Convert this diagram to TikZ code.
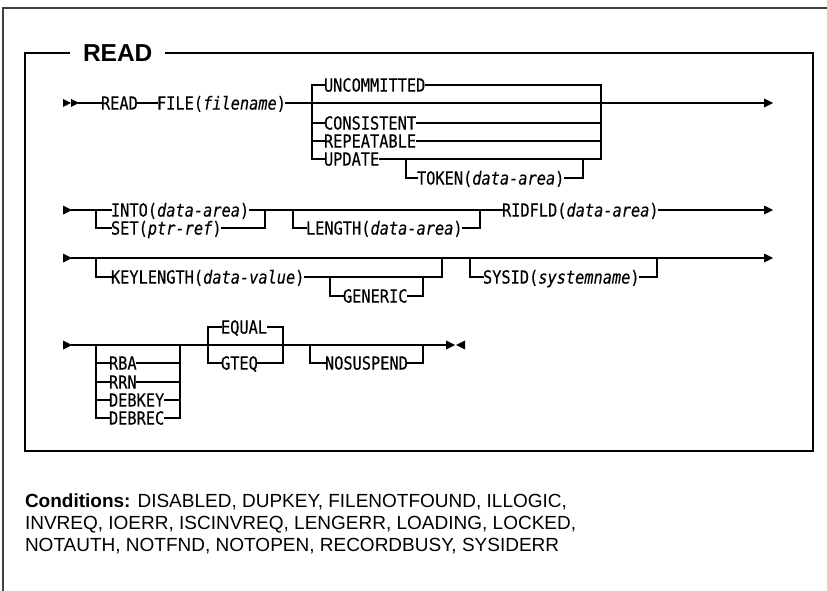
\documentclass[tikz,border=0pt]{standalone}
\usepackage{fontspec}
\newfontfamily\synfont[FakeStretch=0.85,FakeBold=0.3]{DejaVu Sans Mono}
\newfontfamily\condfont{Liberation Sans}
\begin{document}
\begin{tikzpicture}[x=1pt,y=-1pt,
  ln/.style={line width=1.1pt, line cap=rect},
  frame/.style={line width=1.8pt},
  outerframe/.style={line width=1.3pt, draw=black!75},
  syn/.style={inner sep=0pt, outer sep=0pt, anchor=west, text height=13.1pt, text depth=0pt,
    font=\synfont\fontsize{18}{20}\selectfont},
  titletext/.style={inner sep=0pt, outer sep=0pt, anchor=west, text height=17.5pt, text depth=0pt,
    font=\condfont\bfseries\fontsize{24.5}{29}\selectfont},
  cond/.style={inner sep=0pt, outer sep=0pt, anchor=base west,
    font=\condfont\fontsize{19}{22}\selectfont},
  rtip/.pic={\fill (0,-4) -- (8,0) -- (0,4) -- cycle;},
  rtipb/.pic={\fill (0,-4.5) -- (9,0) -- (0,4.5) -- cycle;},
  ltip/.pic={\fill (0,-4.5) -- (-9,0) -- (0,4.5) -- cycle;}]
\useasboundingbox (0,0) rectangle (827,591);

% outer frame
\coordinate (oBL) at (3,591);
\coordinate (oTL) at (3,8);
\coordinate (oTR) at (827,8);
\draw[outerframe] (oBL) -- (oTL) -- (oTR);

% inner frame with title
\node[titletext] (title) at (83,53) {READ};
\coordinate (fTa) at (70,53);
\coordinate (fTb) at (165,53);
\coordinate (fTL) at (25,53);
\coordinate (fBL) at (25,451);
\coordinate (fBR) at (813,451);
\coordinate (fTR) at (813,53);
\draw[frame] (fTa) -- (fTL) -- (fBL) -- (fBR) -- (fTR) -- (fTb);

% ---------- row 1 ----------
\pic at (63,103) {rtip};
\pic at (71,103) {rtip};
\coordinate (r1s) at (79,103);
\node[syn] (read) at (101,103) {READ};
\node[syn] (file) at (157,103) {FILE(\textit{filename})};
\coordinate (b1l) at (312,103);
\coordinate (b1r) at (601,103);
\coordinate (r1e) at (764,103);
\draw[ln] (r1s) -- (read.west) (read.east) -- (file.west) (file.east) -- (r1e);
\pic at (r1e) {rtipb};
\node[syn] (unc) at (324,85) {UNCOMMITTED};
\node[syn] (cons) at (324,123) {CONSISTENT};
\node[syn] (rep) at (324,141) {REPEATABLE};
\node[syn] (upd) at (324,159) {UPDATE};
\draw[ln] (unc.west) -| (b1l) |- (upd.west);
\draw[ln] (unc.east) -| (b1r) |- (upd.east);
\draw[ln] (b1l |- cons.west) -- (cons.west) (cons.east) -- (b1r |- cons.east);
\draw[ln] (b1l |- rep.west) -- (rep.west) (rep.east) -- (b1r |- rep.east);
\coordinate (t1l) at (406,159);
\coordinate (t1r) at (583,159);
\node[syn] (tok) at (417,178) {TOKEN(\textit{data-area})};
\draw[ln] (t1l) |- (tok.west) (tok.east) -| (t1r);

% ---------- row 2 ----------
\pic at (63,210) {rtipb};
\coordinate (r2s) at (72,210);
\coordinate (b2l) at (96,210);
\coordinate (b2r) at (265,210);
\node[syn] (into) at (111,210) {INTO(\textit{data-area})};
\node[syn] (set) at (111,228) {SET(\textit{ptr-ref})};
\draw[ln] (r2s) -- (into.west);
\draw[ln] (b2l) |- (set.west) (set.east) -| (b2r);
\coordinate (b3l) at (293,210);
\coordinate (b3r) at (480,210);
\node[syn] (len) at (306,228) {LENGTH(\textit{data-area})};
\draw[ln] (b3l) |- (len.west) (len.east) -| (b3r);
\node[syn] (rid) at (502,210) {RIDFLD(\textit{data-area})};
\coordinate (r2e) at (764,210);
\draw[ln] (into.east) -- (rid.west) (rid.east) -- (r2e);
\pic at (r2e) {rtipb};

% ---------- row 3 ----------
\pic at (63,258) {rtipb};
\coordinate (r3s) at (72,258);
\coordinate (r3e) at (764,258);
\draw[ln] (r3s) -- (r3e);
\pic at (r3e) {rtipb};
\coordinate (k1l) at (96,258);
\coordinate (k1r) at (442,258);
\node[syn] (keyl) at (111,277) {KEYLENGTH(\textit{data-value})};
\draw[ln] (k1l) |- (keyl.west) (keyl.east) -| (k1r);
\coordinate (g1l) at (330,277);
\coordinate (g1r) at (423,277);
\node[syn] (gen) at (343,296) {GENERIC};
\draw[ln] (g1l) |- (gen.west) (gen.east) -| (g1r);
\coordinate (s1l) at (470,258);
\coordinate (s1r) at (657,258);
\node[syn] (sys) at (483,277) {SYSID(\textit{systemname})};
\draw[ln] (s1l) |- (sys.west) (sys.east) -| (s1r);

% ---------- row 4 ----------
\pic at (63,345) {rtipb};
\coordinate (r4s) at (72,345);
\coordinate (r4e) at (446,345);
\draw[ln] (r4s) -- (r4e);
\pic at (r4e) {rtipb};
\pic at (465,345) {ltip};
\coordinate (o1l) at (96,345);
\coordinate (o1r) at (180,345);
\node[syn] (rba) at (109,363) {RBA};
\node[syn] (rrn) at (109,382) {RRN};
\node[syn] (dbk) at (109,400) {DEBKEY};
\node[syn] (dbr) at (109,418) {DEBREC};
\draw[ln] (o1l) |- (dbr.west) (dbr.east) -| (o1r);
\draw[ln] (o1l |- rba.west) -- (rba.west) (rba.east) -- (o1r |- rba.east);
\draw[ln] (o1l |- rrn.west) -- (rrn.west) (rrn.east) -- (o1r |- rrn.east);
\draw[ln] (o1l |- dbk.west) -- (dbk.west) (dbk.east) -- (o1r |- dbk.east);
\coordinate (e1l) at (208,345);
\coordinate (e1r) at (283,345);
\node[syn] (eq) at (221,327) {EQUAL};
\node[syn] (gteq) at (221,363) {GTEQ};
\draw[ln] (eq.west) -| (e1l) |- (gteq.west);
\draw[ln] (eq.east) -| (e1r) |- (gteq.east);
\coordinate (n1l) at (310,345);
\coordinate (n1r) at (423,345);
\node[syn] (nos) at (325,363) {NOSUSPEND};
\draw[ln] (n1l) |- (nos.west) (nos.east) -| (n1r);

% ---------- conditions ----------
\node[cond] (c1) at (25,507) {\textbf{Conditions:} DISABLED, DUPKEY, FILENOTFOUND, ILLOGIC,};
\node[cond] (c2) at (25,529) {INVREQ, IOERR, ISCINVREQ, LENGERR, LOADING, LOCKED,};
\node[cond] (c3) at (25,551) {NOTAUTH, NOTFND, NOTOPEN, RECORDBUSY, SYSIDERR};
\end{tikzpicture}
\end{document}
